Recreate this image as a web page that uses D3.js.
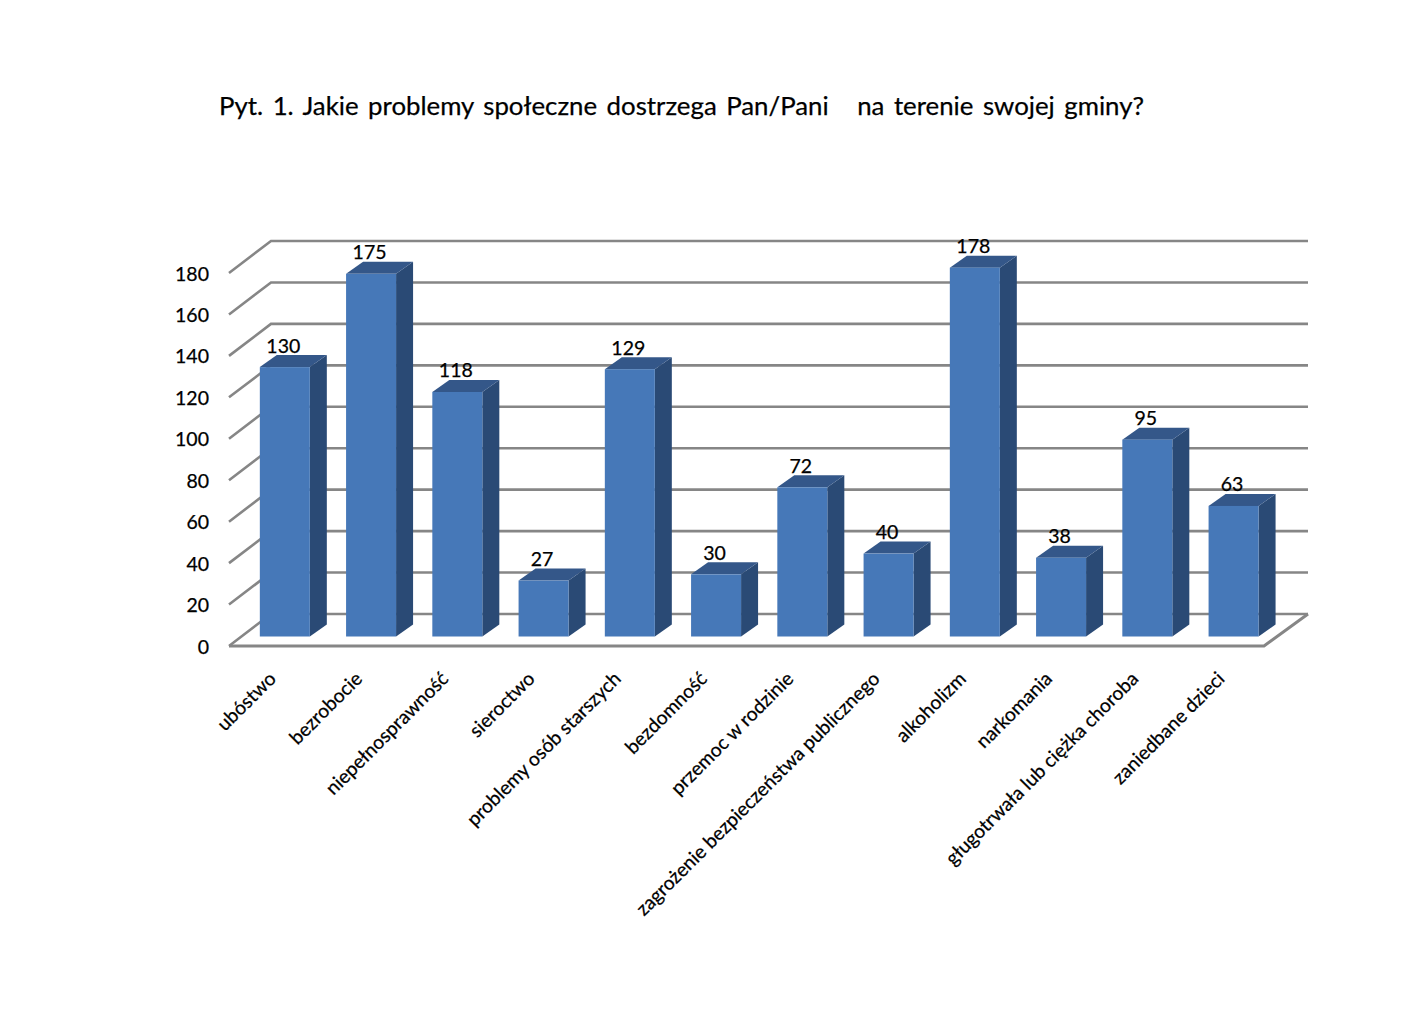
<!DOCTYPE html>
<html><head><meta charset="utf-8">
<script src="https://cdn.jsdelivr.net/npm/d3@7"></script>
<style>html,body{margin:0;padding:0;background:#fff}svg{display:block}text{font-family:Lato,"Open Sans",sans-serif;fill:#000;stroke:#000;stroke-width:.25px}</style>
</head><body><svg id="c" width="1419" height="1009"></svg>
<script>
(function(){
const titleText = "Pyt. 1. Jakie problemy społeczne dostrzega Pan/Pani   na terenie swojej gminy?";
const categories = ["ubóstwo","bezrobocie","niepełnosprawność","sieroctwo","problemy osób starszych","bezdomność","przemoc w rodzinie","zagrożenie bezpieczeństwa publicznego","alkoholizm","narkomania","gługotrwała lub ciężka choroba","zaniedbane dzieci"];
const values = [130,175,118,27,129,30,72,40,178,38,95,63];
const yTicks = [0,20,40,60,80,100,120,140,160,180];

const svg = d3.select("#c");
const x = d3.scaleBand().domain(categories).range([229,1264]);
const y = d3.scaleLinear().domain([0,180]).range([646,273]);
const wallDx = 42, wallDy = -32, barShiftX = 12.7, barShiftY = -9.5, barW = 50, depthX = 17, depthY = -12;
const gridColor = "#868686";

const g = svg.append("g").attr("stroke",gridColor).attr("stroke-width",2.6).attr("fill","none");
g.selectAll("path.grid").data(yTicks).join("path").attr("class","grid")
  .attr("d",t=>`M${x.range()[0]},${y(t)}L${x.range()[0]+wallDx},${y(t)+wallDy}L1308,${y(t)+wallDy}`);
g.append("path").attr("d",`M${x.range()[0]},${y(0)}L${x.range()[1]},${y(0)}L1308,${y(0)+wallDy}`).attr("stroke-width",3);

const bx = c => x(c)+x.bandwidth()/2-barW/2+barShiftX;
const base = y(0)+barShiftY;
const barTop = v => base-(y(0)-y(v));
const bars = svg.append("g").selectAll("g").data(categories.map((c,i)=>({c,v:values[i]}))).join("g");
bars.append("path").attr("fill","#2a4a75")
  .attr("d",d=>{const l=bx(d.c)+barW;return `M${l},${barTop(d.v)}L${l+depthX},${barTop(d.v)+depthY}L${l+depthX},${base+depthY}L${l},${base}Z`;});
bars.append("path").attr("fill","#345789")
  .attr("d",d=>{const l=bx(d.c),t=barTop(d.v);return `M${l},${t}L${l+depthX},${t+depthY}L${l+barW+depthX},${t+depthY}L${l+barW},${t}Z`;});
bars.append("rect").attr("fill","#4678b8")
  .attr("x",d=>bx(d.c)).attr("y",d=>barTop(d.v)).attr("width",barW).attr("height",d=>base-barTop(d.v));
bars.append("text").attr("text-anchor","middle").attr("font-size",19.5)
  .attr("x",d=>bx(d.c)+barW/2-1.5).attr("y",d=>barTop(d.v)+depthY-2.5).text(d=>d.v);

svg.append("g").selectAll("text").data(yTicks).join("text")
  .attr("text-anchor","end").attr("font-size",19.5).attr("x",209).attr("y",t=>y(t)+7.5).text(t=>t);

svg.append("g").selectAll("text").data(categories).join("text")
  .attr("text-anchor","end").attr("font-size",19.3)
  .attr("transform",c=>`translate(${x(c)+x.bandwidth()/2+5},${680}) rotate(-45)`).text(c=>c);

svg.append("text").attr("x",219).attr("y",114.5).attr("font-size",25.8).attr("word-spacing",2.9).style("white-space","pre").text(titleText);
})();
</script></body></html>
